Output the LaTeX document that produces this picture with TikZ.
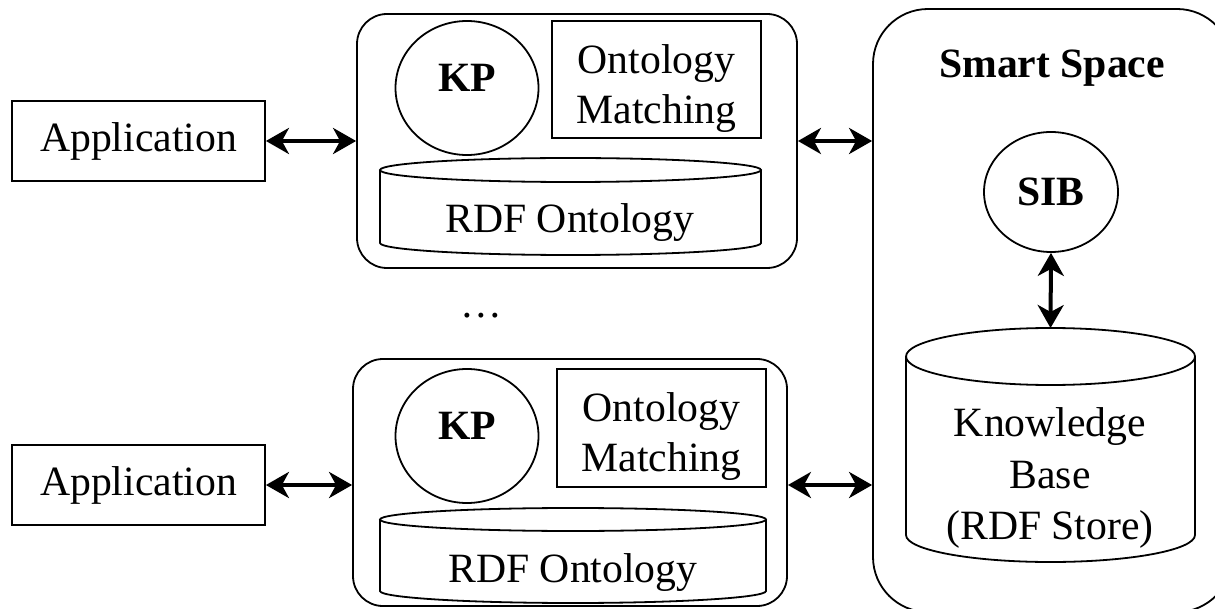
\documentclass[tikz,border=0pt]{standalone}
\usepackage{fontspec}
\setmainfont{Liberation Serif}
\usetikzlibrary{shapes.geometric,arrows.meta,calc}
\begin{document}
\begin{tikzpicture}[x=1pt,y=-1pt,
  font=\fontsize{41.7}{50}\selectfont,
  outline/.style={draw=black,line width=1.8pt},
  box/.style={outline,rectangle,inner sep=0pt},
  rbox/.style={outline,rectangle,inner sep=0pt},
  oval/.style={outline,ellipse,inner sep=0pt},
  txt/.style={inner sep=0pt},
  arr/.style={line width=4pt,{Stealth[length=23pt,width=26pt,inset=7pt]}-{Stealth[length=23pt,width=26pt,inset=7pt]}}
]
\useasboundingbox (0,0) rectangle (1215,609);
\clip (0,0) rectangle (1215,609);
\fill[white] (0,0) rectangle (1215,609);

% Application boxes
\node[box,minimum width=253pt,minimum height=80pt] (app1) at (138.5,141) {Application};
\node[box,minimum width=253pt,minimum height=80pt] (app2) at (138.5,485) {Application};

% KP containers
\node[rbox,rounded corners=30pt,minimum width=440pt,minimum height=254pt] (kp1box) at (577,141) {};
\node[rbox,rounded corners=30pt,minimum width=434pt,minimum height=247pt] (kp2box) at (570,482.5) {};

% Smart space container
\node[rbox,rounded corners=55pt,minimum width=359pt,minimum height=603pt] (smart) at (1052.5,310.5) {};
\node[txt,font=\fontsize{41.7}{50}\selectfont\bfseries,text height=28pt,text depth=0pt] (smarttitle) at (1052,64) {Smart Space};

% KP circles
\node[oval,minimum width=143pt,minimum height=134pt,
  label={[font=\fontsize{41.7}{50}\selectfont\bfseries,yshift=10.5pt]center:KP}] (kp1) at (467,88) {};
\node[oval,minimum width=143pt,minimum height=134pt,
  label={[font=\fontsize{41.7}{50}\selectfont\bfseries,yshift=10pt]center:KP}] (kp2) at (467,436) {};

% Ontology matching boxes
\node[box,minimum width=209pt,minimum height=117pt,
  label={[align=center,yshift=-8.8pt]center:Ontology\\Matching}] (om1) at (656.5,79.5) {};
\node[box,minimum width=209pt,minimum height=118pt,
  label={[align=center,yshift=-8.3pt]center:Ontology\\Matching}] (om2) at (661.5,428) {};

% RDF Ontology cylinders
\draw[outline] (380,170) -- (380,243) arc[start angle=180,end angle=360,x radius=190.5pt,y radius=12pt] -- (761,170);
\draw[outline] (570.5,170) ellipse [x radius=190.5pt,y radius=12pt];
\node[txt] (rdf1) at (570,223) {RDF Ontology};

\draw[outline] (380,519.5) -- (380,591) arc[start angle=180,end angle=360,x radius=193pt,y radius=12pt] -- (766,519.5);
\draw[outline] (573,519.5) ellipse [x radius=193pt,y radius=11.5pt];
\node[txt] (rdf2) at (573,573) {RDF Ontology};

% SIB
\node[oval,minimum width=134pt,minimum height=120pt,font=\fontsize{41.7}{50}\selectfont\bfseries] (sib) at (1051,192) {SIB};

% Knowledge base cylinder
\draw[outline] (906,356.5) -- (906,535) arc[start angle=180,end angle=360,x radius=144.5pt,y radius=27pt] -- (1195,356.5);
\draw[outline] (1050.5,356.5) ellipse [x radius=144.5pt,y radius=28.5pt];
\coordinate (kbtop) at (1050.5,328);
\node[txt,align=center,font=\fontsize{41.7}{51.5}\selectfont] (kb) at (1050,478) {Knowledge\\Base\\(RDF Store)};

% ellipsis
\node[txt,text height=4.5pt,text depth=0pt] (dots) at (481,315) {…};

% connectors
\draw[arr] (app1.east) -- (app1.east -| kp1box.west);
\draw[arr] (kp1box.east) -- (kp1box.east -| smart.west);
\draw[arr] (app2.east) -- (app2.east -| kp2box.west);
\draw[arr] (app2.east -| kp2box.east) -- (app2.east -| smart.west);
\draw[arr] (sib.south) -- (kbtop);
\end{tikzpicture}
\end{document}
